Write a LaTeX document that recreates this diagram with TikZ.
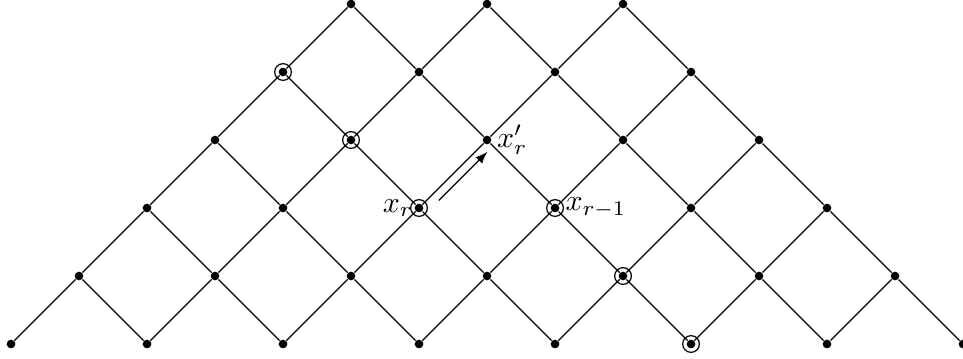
\documentclass[tikz,border=0pt]{standalone}
\usepackage{amsmath,amsfonts}
\usetikzlibrary{calc}
\tikzset{
  dot/.style={circle,fill,inner sep=0pt,minimum size=2.9pt},
  ring/.style={circle,draw,inner sep=0pt,minimum size=5.6pt},
}
\begin{document}
\begin{tikzpicture}[scale=0.8]
\useasboundingbox (-0.162,-0.206) rectangle (14,5.059);
%
	\foreach \j in {0,...,5}{
		\pgfmathtruncatemacro{\kmax}{7-\j}
		\foreach \k in {0,...,\kmax}{
			\pgfmathtruncatemacro{\x}{\j+2*\k}
			\node[dot] (v-\x-\j) at (\x,\j) {};
		}
	}
%
	\foreach \j in {1,...,5}{
		\pgfmathtruncatemacro{\kmax}{7-\j}
		\pgfmathtruncatemacro{\jj}{\j-1}
		\foreach \k in {0,...,\kmax}{
			\pgfmathtruncatemacro{\x}{\j+2*\k}
			\pgfmathtruncatemacro{\xl}{\x-1}
			\pgfmathtruncatemacro{\xr}{\x+1}
			\draw (v-\xl-\jj) -- (v-\x-\j) -- (v-\xr-\jj);
		}
	}
%
	\node[ring] (c1) at (v-4-4) {};
	\node[ring] (c2) at (v-5-3) {};
	\node[ring] (c3) at (v-6-2) {};
	\node[ring] (c4) at (v-8-2) {};
	\node[ring] (c5) at (v-9-1) {};
	\node[ring] (c6) at (v-10-0) {};
%
	\node[anchor=east,inner sep=0pt,xshift=1.2pt] (xr) at (c3.west) {$x_r$};
	\node[anchor=west,inner sep=0.3pt] (xrm) at (c4.east) {$x_{r-1}$};
	\node[anchor=west,inner sep=1.5pt] (xrp) at (v-7-3.east) {$x'_r$};
%
	\coordinate (a0) at ($(v-6-2)!0.2!(v-7-3)+(0.09,-0.09)$);
	\coordinate (a1) at ($(v-6-2)!0.915!(v-7-3)+(0.09,-0.09)$);
	\draw[-latex] (a0) -- (a1);
\end{tikzpicture}
\end{document}
